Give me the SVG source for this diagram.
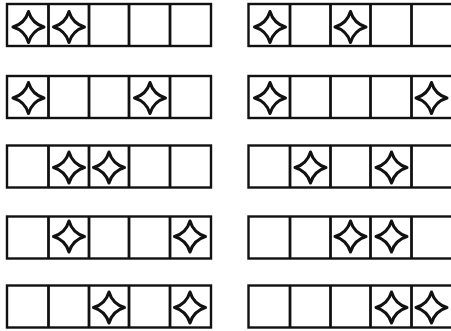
<svg xmlns="http://www.w3.org/2000/svg" xmlns:xlink="http://www.w3.org/1999/xlink" width="451" height="331" viewBox="0 0 451 331">
<style>
.box{fill:#fff;stroke:#111;stroke-width:2.4}
.div{stroke:#111;stroke-width:2.8}
.star{fill:none;stroke:#111;stroke-width:3;stroke-linejoin:round}
</style>
<defs>
<path id="s" class="star" d="M0,-15.5 Q3.5,-3.5 15.5,0 Q3.5,3.5 0,15.5 Q-3.5,3.5 -15.5,0 Q-3.5,-3.5 0,-15.5 Z"/>
<g id="row">
<rect class="box" x="0" y="0" width="204" height="42"/>
<line class="div" x1="41.5" y1="0" x2="41.5" y2="42"/>
<line class="div" x1="82" y1="0" x2="82" y2="42"/>
<line class="div" x1="122" y1="0" x2="122" y2="42"/>
<line class="div" x1="163" y1="0" x2="163" y2="42"/>
</g>
</defs>
<rect width="451" height="331" fill="#fff"/>
<g id="L1" transform="translate(7,4)"><use xlink:href="#row"/><use xlink:href="#s" x="21.5" y="23"/><use xlink:href="#s" x="62" y="23"/></g>
<g id="L2" transform="translate(7,76)"><use xlink:href="#row"/><use xlink:href="#s" x="21.5" y="22"/><use xlink:href="#s" x="143" y="22"/></g>
<g id="L3" transform="translate(7,145.5)"><use xlink:href="#row"/><use xlink:href="#s" x="62" y="22"/><use xlink:href="#s" x="102" y="22"/></g>
<g id="L4" transform="translate(7,216.5)"><use xlink:href="#row"/><use xlink:href="#s" x="62" y="20"/><use xlink:href="#s" x="183" y="20"/></g>
<g id="L5" transform="translate(7,285.5)"><use xlink:href="#row"/><use xlink:href="#s" x="102" y="22"/><use xlink:href="#s" x="183" y="22"/></g>
<g id="R1" transform="translate(248.5,4)"><use xlink:href="#row"/><use xlink:href="#s" x="21.5" y="23"/><use xlink:href="#s" x="102" y="23"/></g>
<g id="R2" transform="translate(248.5,76)"><use xlink:href="#row"/><use xlink:href="#s" x="21.5" y="22"/><use xlink:href="#s" x="183" y="22"/></g>
<g id="R3" transform="translate(248.5,145.5)"><use xlink:href="#row"/><use xlink:href="#s" x="62" y="22"/><use xlink:href="#s" x="143" y="22"/></g>
<g id="R4" transform="translate(248.5,216.5)"><use xlink:href="#row"/><use xlink:href="#s" x="102" y="20"/><use xlink:href="#s" x="143" y="20"/></g>
<g id="R5" transform="translate(248.5,285.5)"><use xlink:href="#row"/><use xlink:href="#s" x="143" y="22"/><use xlink:href="#s" x="183" y="22"/></g>
</svg>
